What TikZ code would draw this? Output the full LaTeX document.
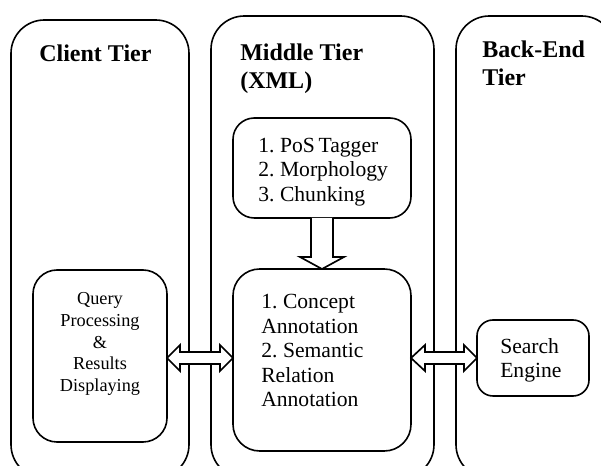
\documentclass[tikz,border=0pt]{standalone}
\usepackage{fontspec}
\setmainfont{Liberation Serif}
\newfontfamily\bodyfont[WordSpace=0.7]{Liberation Serif}
\tikzset{
 tier/.style={draw=black,line width=1.2pt,rounded corners=25pt},
 innerbox/.style={draw=black,line width=1.2pt,rounded corners=#1,fill=white,rectangle,inner sep=0pt,outer sep=0pt},
 arr/.style={draw=black,line width=1.25pt,fill=white,line join=miter},
 ttl/.style={font=\fontsize{18}{21}\selectfont\bfseries,align=left,anchor=north west,inner sep=0pt},
 body/.style={font=\bodyfont\fontsize{16.2}{18.4}\selectfont,align=left,anchor=north west,inner sep=0pt},
 bodyc/.style={font=\bodyfont\fontsize{13.7}{16.2}\selectfont,align=center,inner sep=0pt},
}
\begin{document}
\begin{tikzpicture}[x=0.75pt,y=-0.75pt]
\useasboundingbox (0,0) rectangle (601,466);
\fill[white] (0,0) rectangle (601,466);
\begin{scope}
\clip (0,0) rectangle (601,466);
\draw[tier] (11,478) -- (11,20) -- (189,20) -- (189,478) -- cycle;
\draw[tier] (211,478) -- (211,16) -- (434,16) -- (434,478) -- cycle;
\draw[tier] (456,478) -- (456,16) -- (615,16) -- (615,478) -- cycle;
\end{scope}
\node[ttl] (client) at (39,45) {Client Tier};
\node[ttl] (middle) at (240,44) {Middle Tier\\(XML)};
\node[ttl] (back) at (482,41) {Back-End\\Tier};
\node[innerbox=16pt,minimum width=133.5pt,minimum height=75pt] (tagbox) at (322,168) {};
\node[body] (tag) at (258,137.5) {1. PoS Tagger\\2. Morphology\\3. Chunking};
\node[innerbox=20pt,minimum width=133.5pt,minimum height=136.5pt] (annobox) at (322,360) {};
\node[body] (anno) at (261,294) {1. Concept\\Annotation\\2. Semantic\\Relation\\Annotation};
\node[innerbox=18pt,minimum width=100.5pt,minimum height=129pt] (querybox) at (100,356) {};
\node[bodyc] (query) at (100,344) {Query\\Processing\\\&\\Results\\Displaying};
\node[innerbox=12pt,minimum width=84pt,minimum height=57pt] (searchbox) at (533,358) {};
\node[body] (search) at (500,338) {Search\\Engine};
\draw[arr,shift={(annobox.north)}] (-11,-51) -- (-11,-12) -- (-22,-12) -- (0,0) -- (22,-12) -- (11,-12) -- (11,-51);
\draw[arr,shift={(querybox.east |- searchbox.west)}] (0,0) -- (13,-13) -- (13,-6) -- (53,-6) -- (53,-13) -- (66,0) -- (53,13) -- (53,6) -- (13,6) -- (13,13) -- cycle;
\draw[arr,shift={(annobox.east |- searchbox.west)}] (0,0) -- (14,-13) -- (14,-6) -- (53,-6) -- (53,-13) -- (66,0) -- (53,13) -- (53,6) -- (14,6) -- (14,13) -- cycle;
\end{tikzpicture}
\end{document}
